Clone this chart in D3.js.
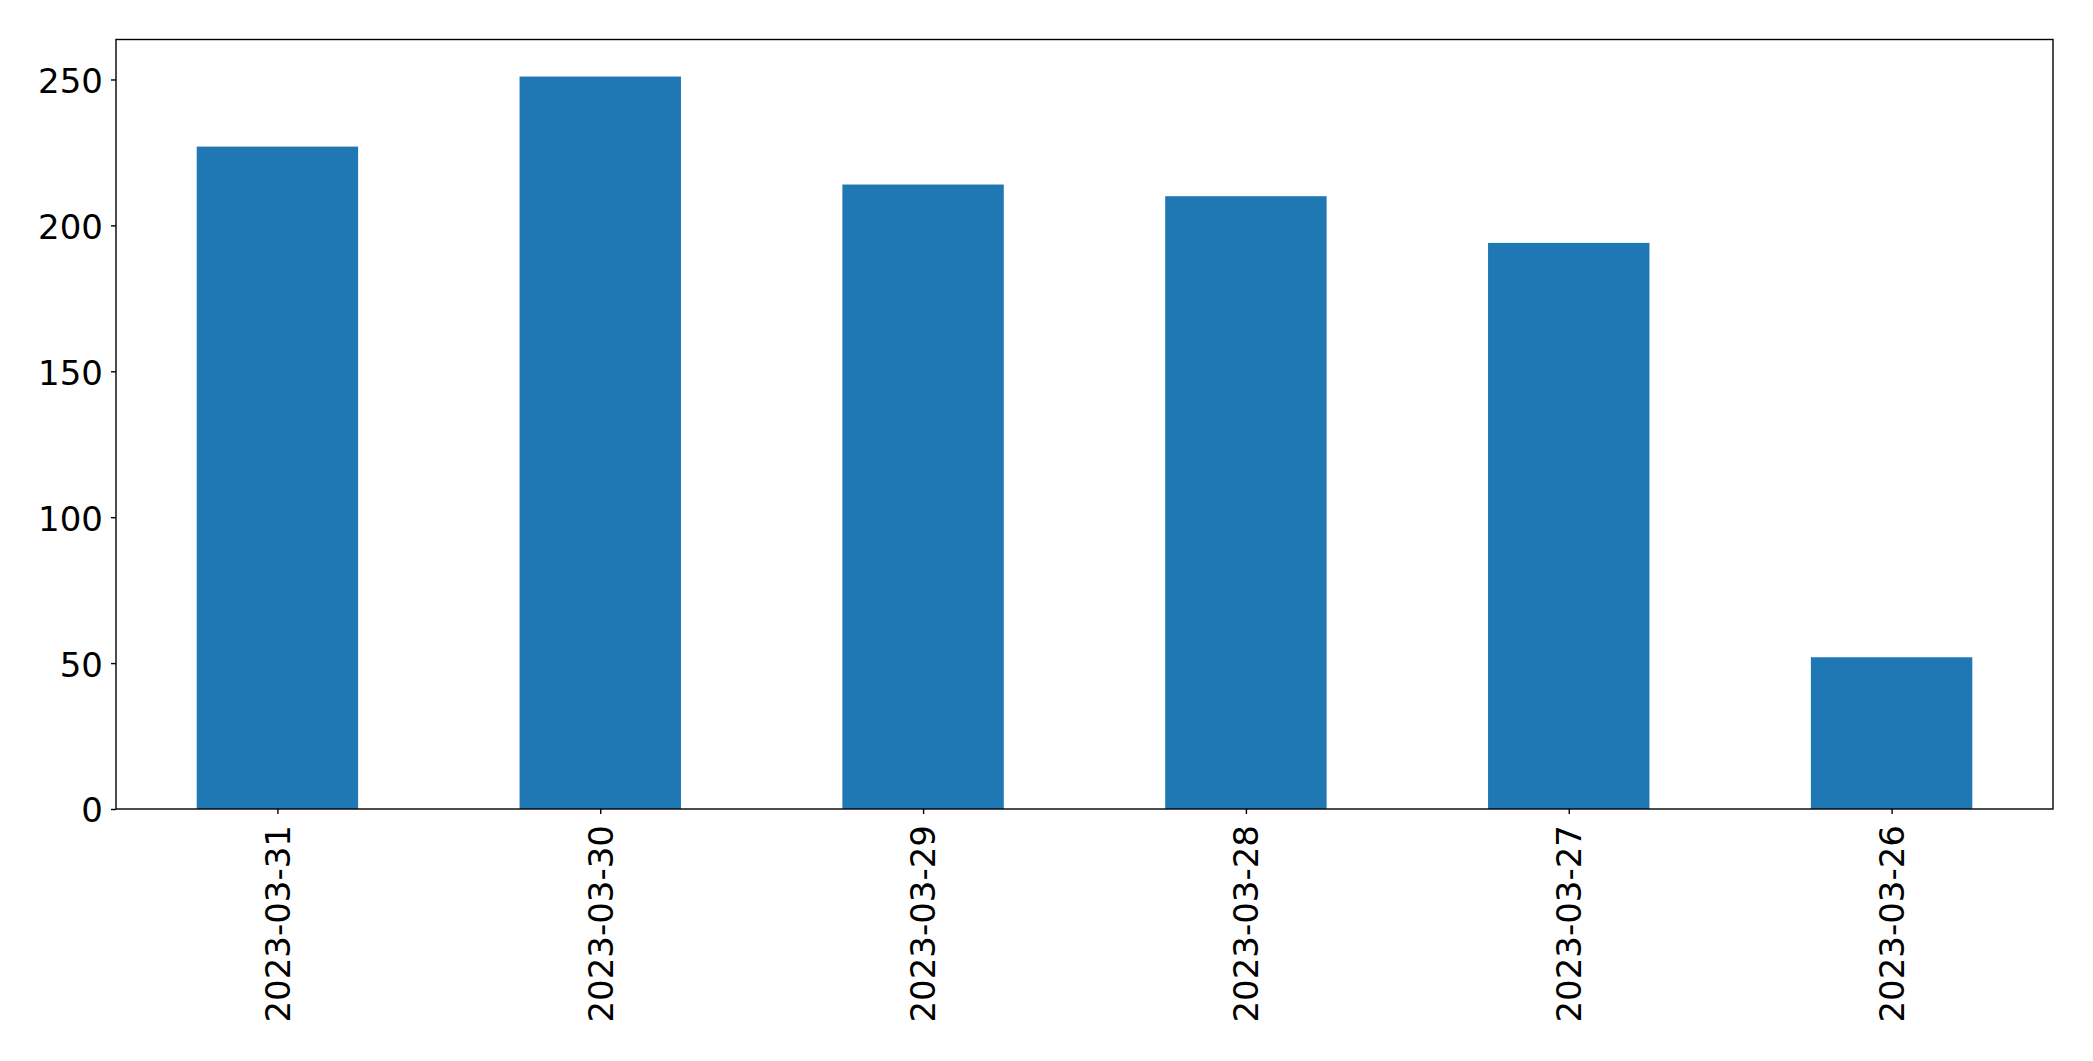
<!DOCTYPE html>
<html>
<head>
<meta charset="utf-8">
<script src="https://cdn.jsdelivr.net/npm/d3@7"></script>
<style>
  html, body { margin: 0; padding: 0; background: #fff; }
  svg { display: block; }
  text { font-family: "DejaVu Sans", sans-serif; }
</style>
</head>
<body>
<svg id="chart" width="2093" height="1061"></svg>
<script>
const categories = ["2023-03-31", "2023-03-30", "2023-03-29", "2023-03-28", "2023-03-27", "2023-03-26"];
const values = [227, 251, 214, 210, 194, 52];
const yTicks = [0, 50, 100, 150, 200, 250];

const W = 2093, H = 1061;
const margin = { left: 116, right: 40, top: 39.5, bottom: 252 };
const plotW = W - margin.left - margin.right;
const plotH = H - margin.top - margin.bottom;

const svg = d3.select("#chart");
const g = svg.append("g").attr("transform", `translate(${margin.left},${margin.top})`);

const x = d3.scaleLinear().domain([-0.5, categories.length - 0.5]).range([0, plotW]);
const y = d3.scaleLinear().domain([0, 263.7]).range([plotH, 0]);
const barW = 0.5;

g.selectAll("rect.bar").data(values).join("rect")
  .attr("class", "bar")
  .attr("x", (d, i) => x(i - barW / 2))
  .attr("width", (d, i) => x(i + barW / 2) - x(i - barW / 2))
  .attr("y", d => y(d))
  .attr("height", d => y(0) - y(d))
  .attr("fill", "#1f77b4");

const fontSize = 34;

const yAxis = d3.axisLeft(y).tickValues(yTicks).tickSize(5).tickPadding(8).tickFormat(d3.format("d"));
const yg = g.append("g").call(yAxis);
yg.select(".domain").remove();
yg.selectAll("line").attr("stroke", "#000").attr("stroke-width", 1.4);
yg.selectAll("text").attr("font-size", fontSize).attr("fill", "#000").attr("dy", "0.38em");

const xAxis = d3.axisBottom(x).tickValues(d3.range(categories.length)).tickSize(5).tickFormat(i => categories[i]);
const xg = g.append("g").attr("transform", `translate(0,${plotH})`).call(xAxis);
xg.select(".domain").remove();
xg.selectAll("line").attr("stroke", "#000").attr("stroke-width", 1.4);
xg.selectAll("text")
  .attr("font-size", fontSize).attr("fill", "#000")
  .attr("transform", "rotate(-90)")
  .attr("text-anchor", "end")
  .attr("x", -16).attr("y", 0).attr("dy", "0.35em");

g.append("rect")
  .attr("x", 0).attr("y", 0).attr("width", plotW).attr("height", plotH)
  .attr("fill", "none").attr("stroke", "#000").attr("stroke-width", 1.4);
</script>
</body>
</html>
